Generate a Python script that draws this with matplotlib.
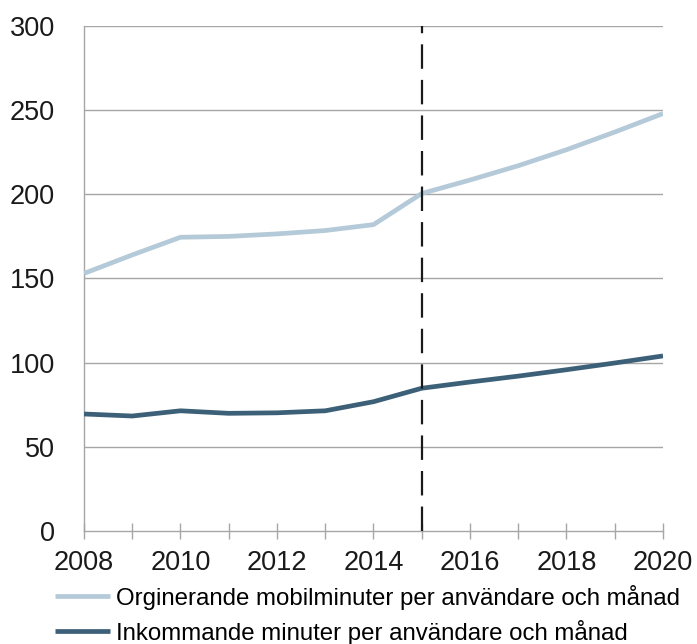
import matplotlib
matplotlib.use("Agg")
import matplotlib.pyplot as plt

plt.rcParams['font.family'] = ['Liberation Sans', 'DejaVu Sans']

years = [2008, 2009, 2010, 2011, 2012, 2013, 2014, 2015, 2016, 2017, 2018, 2019, 2020]
orginerande = [153, 164, 174.5, 175, 176.5, 178.5, 182, 200.5, 208.5, 217, 226.5, 237, 248]
inkommande = [69.5, 68.3, 71.4, 69.9, 70.2, 71.4, 76.8, 84.8, 88.5, 92, 95.8, 99.8, 104]

label_orig = "Orginerande mobilminuter per användare och månad"
label_ink = "Inkommande minuter per användare och månad"
forecast_year = 2015

light = "#b5cad9"
dark = "#3d6079"
grid_col = "#a6a6a6"

fig = plt.figure(figsize=(6.97, 6.44), dpi=100)
ax = fig.add_axes([0.1205, 0.1755, 0.8307, 0.7841])

# horizontal gridlines
for v in [50, 100, 150, 200, 250, 300]:
    ax.axhline(v, color=grid_col, lw=1.0, zorder=1)

l1, = ax.plot(years, orginerande, color=light, lw=3.4, solid_capstyle='butt', zorder=3, label=label_orig)
l2, = ax.plot(years, inkommande, color=dark, lw=3.4, solid_capstyle='butt', zorder=3, label=label_ink)

ax.axvline(forecast_year, color="#1a1a1a", lw=1.6, dashes=(11, 5), zorder=4)

ax.set_xlim(2008, 2020)
ax.set_ylim(0, 300)
ax.set_yticks(range(0, 301, 50))
ax.set_xticks(years)
ax.set_xticklabels([str(y) if y % 2 == 0 else "" for y in years])

for side in ["top", "right"]:
    ax.spines[side].set_visible(False)
for side in ["left", "bottom"]:
    ax.spines[side].set_color(grid_col)
    ax.spines[side].set_linewidth(1.0)

ax.tick_params(axis='y', length=0, labelsize=19.5, pad=21, colors="#1a1a1a")
ax.tick_params(axis='x', direction='inout', length=12, width=1.0, color=grid_col,
               labelsize=19.5, pad=8, labelcolor="#1a1a1a")

fig.legend(handles=[l1, l2], loc='upper left', bbox_to_anchor=(0.079, 0.092),
           frameon=False, fontsize=17.3, handlelength=2.3, handletextpad=0.22,
           labelspacing=0.42, borderaxespad=0, borderpad=0)

fig.savefig("out.png", dpi=100)
